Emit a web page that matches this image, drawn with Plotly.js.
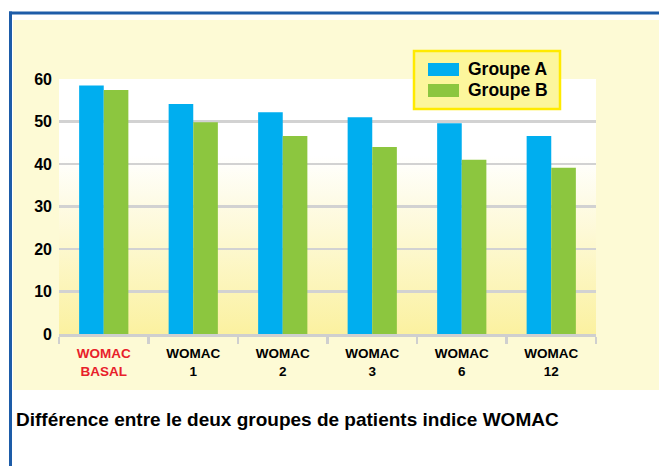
<!DOCTYPE html>
<html>
<head>
<meta charset="utf-8">
<script src="https://cdn.plot.ly/plotly-3.0.1.min.js"></script>
<style>html,body{margin:0;padding:0;background:#fff;}#chart{width:659px;height:466px;}</style>
</head>
<body>
<div id="chart"></div>
<script>
// ---- data ----
const categories = ['WOMAC BASAL', 'WOMAC 1', 'WOMAC 2', 'WOMAC 3', 'WOMAC 6', 'WOMAC 12'];
const tickLabels = ['WOMAC<br>BASAL', 'WOMAC<br>1', 'WOMAC<br>2', 'WOMAC<br>3', 'WOMAC<br>6', 'WOMAC<br>12'];
const seriesNames = ['Groupe A', 'Groupe B'];
const groupeA = [58.5, 54.1, 52.2, 51.0, 49.6, 46.6];
const groupeB = [57.4, 49.8, 46.6, 44.0, 41.0, 39.1];
const yTicks = [0, 10, 20, 30, 40, 50, 60];
const chartTitle = 'Différence entre le deux groupes de patients indice WOMAC';

// ---- layout helpers (pixel -> paper) ----
const W = 659, H = 466;
const L = 59, R = 596, T = 79, B = 334;
const px = x => (x - L) / (R - L);
const py = y => (B - y) / (B - T);

const FONT = 'Liberation Sans, Arial, Helvetica, sans-serif';
const BLUE = '#00aeef', GREEN = '#8cc63f';

const traces = [
  {type: 'bar', name: seriesNames[0], x: categories, y: groupeA, marker: {color: BLUE}, showlegend: false, hoverinfo: 'x+y'},
  {type: 'bar', name: seriesNames[1], x: categories, y: groupeB, marker: {color: GREEN}, showlegend: false, hoverinfo: 'x+y'}
];

const gradSvg = '<svg xmlns="http://www.w3.org/2000/svg" width="100" height="100" preserveAspectRatio="none">' +
  '<defs><linearGradient id="g" x1="0" y1="0" x2="0" y2="1">' +
  '<stop offset="0" stop-color="#ffffff"/><stop offset="0.3" stop-color="#ffffff"/>' +
  '<stop offset="1" stop-color="#fbf1a0"/></linearGradient></defs>' +
  '<rect width="100" height="100" fill="url(#g)"/></svg>';

const shapes = [
  // white strips outside the yellow panel
  {type: 'rect', xref: 'paper', yref: 'paper', x0: px(0), x1: px(W), y0: py(0), y1: py(20), fillcolor: '#ffffff', line: {width: 0}, layer: 'below'},
  {type: 'rect', xref: 'paper', yref: 'paper', x0: px(0), x1: px(W), y0: py(390), y1: py(H), fillcolor: '#ffffff', line: {width: 0}, layer: 'below'},
  {type: 'rect', xref: 'paper', yref: 'paper', x0: px(0), x1: px(13), y0: py(0), y1: py(H), fillcolor: '#ffffff', line: {width: 0}, layer: 'below'},
  // blue frame lines
  {type: 'line', xref: 'paper', yref: 'paper', x0: px(9), x1: px(W), y0: py(13), y1: py(13), line: {color: '#1d5ca8', width: 3}, layer: 'below'},
  {type: 'line', xref: 'paper', yref: 'paper', x0: px(10.5), x1: px(10.5), y0: py(11.5), y1: py(H), line: {color: '#1d5ca8', width: 3}, layer: 'below'},
  // legend box
  {type: 'rect', xref: 'paper', yref: 'paper', x0: px(414), x1: px(560), y0: py(51), y1: py(109), fillcolor: '#fcf69c', line: {color: '#ffea00', width: 2.5}, layer: 'above'},
  {type: 'rect', xref: 'paper', yref: 'paper', x0: px(428), x1: px(459), y0: py(63), y1: py(76), fillcolor: BLUE, line: {width: 0}, layer: 'above'},
  {type: 'rect', xref: 'paper', yref: 'paper', x0: px(428), x1: px(459), y0: py(84), y1: py(97), fillcolor: GREEN, line: {width: 0}, layer: 'above'}
];

const annotations = [
  {xref: 'paper', yref: 'paper', x: px(466), y: py(69.5), xanchor: 'left', yanchor: 'middle', showarrow: false,
   text: seriesNames[0], font: {family: FONT, size: 17.5, color: '#000', weight: 700}},
  {xref: 'paper', yref: 'paper', x: px(466), y: py(90.5), xanchor: 'left', yanchor: 'middle', showarrow: false,
   text: seriesNames[1], font: {family: FONT, size: 17.5, color: '#000', weight: 700}}
];

const ticktext = tickLabels.map((t, i) => i === 0 ? '<span style="color:#e8202a">' + t + '</span>' : t);

const layout = {
  width: W, height: H,
  margin: {l: L, r: W - R, t: T, b: H - B, pad: 0},
  paper_bgcolor: '#fdfad5',
  plot_bgcolor: 'rgba(0,0,0,0)',
  barmode: 'group', bargap: 0.45, bargroupgap: 0,
  showlegend: false,
  font: {family: FONT, color: '#000'},
  title: {text: chartTitle, xref: 'container', yref: 'container', x: 16 / W, xanchor: 'left',
          y: (H - 419) / H, yanchor: 'middle', font: {family: FONT, size: 19, color: '#000', weight: 700}},
  xaxis: {
    type: 'category', tickmode: 'array', tickvals: categories, ticktext: ticktext,
    tickson: 'boundaries', ticks: 'outside', ticklen: 7, tickwidth: 2.5, tickcolor: '#cfcfcf',
    showline: true, linecolor: '#cfcfcf', linewidth: 3, showgrid: false, zeroline: false,
    ticklabelstandoff: 5,
    tickfont: {family: FONT, size: 13.5, color: '#000', weight: 700}, fixedrange: true
  },
  yaxis: {
    range: [0, 60], tickmode: 'array', tickvals: yTicks, ticktext: yTicks.map(String),
    showgrid: true, gridcolor: '#d2d2d2', gridwidth: 2.5, zeroline: false, showline: false,
    ticks: '', ticklabelstandoff: 6,
    tickfont: {family: FONT, size: 16, color: '#000', weight: 700}, fixedrange: true
  },
  images: [{source: 'data:image/svg+xml;charset=utf-8,' + encodeURIComponent(gradSvg),
            xref: 'paper', yref: 'paper', x: 0, y: 1, sizex: 1, sizey: 1, sizing: 'stretch',
            xanchor: 'left', yanchor: 'top', layer: 'below'}],
  shapes: shapes,
  annotations: annotations
};

Plotly.newPlot('chart', traces, layout, {displayModeBar: false, staticPlot: true});
</script>
</body>
</html>
